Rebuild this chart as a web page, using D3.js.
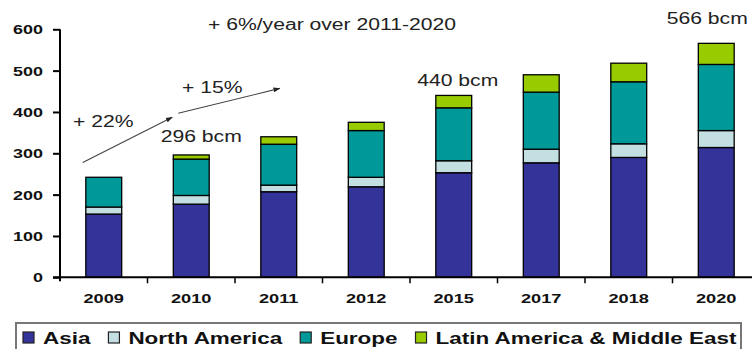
<!DOCTYPE html>
<html>
<head>
<meta charset="utf-8">
<script src="https://cdn.jsdelivr.net/npm/d3@7"></script>
<style>
  body { margin: 0; background: #fff; }
  svg { display: block; font-family: "Liberation Sans", Arial, sans-serif; }
</style>
</head>
<body>
<svg id="chart" width="752" height="349"></svg>
<script>
// Gas demand by region, bcm
const years = ["2009", "2010", "2011", "2012", "2015", "2017", "2018", "2020"];
const regions = ["Asia", "North America", "Europe", "Latin America & Middle East"];
const asia         = [153, 177, 207, 219, 253, 277, 290, 314];
const northAmerica = [17,  21,  16,  23,  29,  33,  33,  41];
const europe       = [72,  88,  99, 113, 128, 138, 150, 160];
const latamMideast = [0,   10,  18,  20,  30,  42,  45,  51];
const yTicks = [0, 100, 200, 300, 400, 500, 600];
const colors = ["#333399", "#c4dfe2", "#009999", "#99cc00"];

const svg = d3.select("#chart");
const W = 752;

const x = d3.scaleBand().domain(years).range([60, 760])
  .paddingInner(0.59).paddingOuter(0.295);
const y = d3.scaleLinear().domain([0, 600]).range([277.3, 29.3]);

// Horizontal stretch for text (wide lettering)
function stretch(sel, k) {
  sel.each(function () {
    const w = this.getComputedTextLength();
    this.setAttribute("textLength", w * k);
    this.setAttribute("lengthAdjust", "spacingAndGlyphs");
  });
}

// Stacked data
const rows = years.map((yr, i) => ({
  year: yr,
  "Asia": asia[i],
  "North America": northAmerica[i],
  "Europe": europe[i],
  "Latin America & Middle East": latamMideast[i]
}));
const stacked = d3.stack().keys(regions)(rows);

const bars = svg.append("g");
stacked.forEach((layer, li) => {
  bars.append("g").attr("fill", colors[li])
    .selectAll("rect").data(layer).join("rect")
    .attr("x", d => x(d.data.year))
    .attr("width", x.bandwidth())
    .attr("y", d => y(d[1]))
    .attr("height", d => Math.max(0, y(d[0]) - y(d[1])))
    .attr("stroke", d => (d[1] - d[0]) > 0 ? "#000" : "none")
    .attr("stroke-width", 1.3);
});

// Y axis
const yAxis = svg.append("g").attr("transform", "translate(60,0)")
  .call(d3.axisLeft(y).tickValues(yTicks).tickSize(7).tickPadding(10).tickFormat(d3.format("d")));
yAxis.select(".domain").attr("stroke", "#000").attr("stroke-width", 2).attr("d", `M0,${y(600)}V${y(0)}`);
yAxis.selectAll(".tick line").attr("stroke", "#000").attr("stroke-width", 2);
yAxis.selectAll(".tick text")
  .attr("font-size", 13).attr("font-weight", "bold").attr("fill", "#111")
  .attr("font-family", "'Liberation Sans', Arial, sans-serif")
  .attr("dy", "0.35em");
stretch(yAxis.selectAll(".tick text"), 1.38);

// X axis: baseline with ticks at category boundaries
const xg = svg.append("g");
xg.append("line").attr("x1", 53).attr("x2", W).attr("y1", y(0)).attr("y2", y(0))
  .attr("stroke", "#000").attr("stroke-width", 2);
const step = x.step();
years.forEach(yr => {
  const bx = x(yr) + x.bandwidth() / 2 + step / 2;
  xg.append("line").attr("x1", bx).attr("x2", bx).attr("y1", y(0)).attr("y2", y(0) + 6)
    .attr("stroke", "#000").attr("stroke-width", 1.5);
});
xg.append("line").attr("x1", 60).attr("x2", 60).attr("y1", y(0)).attr("y2", y(0) + 4)
  .attr("stroke", "#000").attr("stroke-width", 2);
const xl = xg.selectAll("text.xl").data(years).join("text").attr("class", "xl")
  .attr("x", d => x(d) + x.bandwidth() / 2)
  .attr("y", 302.5)
  .attr("text-anchor", "middle")
  .attr("font-size", 13).attr("font-weight", "bold").attr("fill", "#111")
  .text(d => d);
stretch(xl, 1.4);

// Annotations
const ann = svg.append("g").attr("font-size", 16).attr("fill", "#222");
function note(txt, px, py, anchor) {
  const t = ann.append("text").attr("x", px).attr("y", py)
    .attr("text-anchor", anchor || "start").text(txt);
  stretch(t, 1.32);
  return t;
}
const total = i => asia[i] + northAmerica[i] + europe[i] + latamMideast[i];
const cx = yr => x(yr) + x.bandwidth() / 2;

note("+ 6%/year over 2011-2020", 208, 30);
note(total(7) + " bcm", cx("2020") - 9, 24, "middle");
note(total(4) + " bcm", cx("2015") + 4, 86, "middle");
note(total(1) + " bcm", cx("2010") + 10, 142, "middle");
note("+ 22%", 73, 126.5);
note("+ 15%", 182, 93);

// Growth arrows
const defs = svg.append("defs");
defs.append("marker").attr("id", "ah").attr("viewBox", "0 0 10 10")
  .attr("refX", 9).attr("refY", 5).attr("markerWidth", 7).attr("markerHeight", 7)
  .attr("markerUnits", "userSpaceOnUse").attr("orient", "auto")
  .append("path").attr("d", "M0,1.5L10,5L0,8.5Z").attr("fill", "#222");
const arrows = [
  [[cx("2009") - 21, y(278)], [cx("2010") - 19, y(387)]],
  [[cx("2010") - 13, y(397)], [cx("2011") + 1, y(457)]]
];
svg.append("g").selectAll("line").data(arrows).join("line")
  .attr("x1", d => d[0][0]).attr("y1", d => d[0][1])
  .attr("x2", d => d[1][0]).attr("y2", d => d[1][1])
  .attr("stroke", "#444").attr("stroke-width", 1.1)
  .attr("marker-end", "url(#ah)");

// Legend
const lg = svg.append("g");
lg.append("rect").attr("x", 16).attr("y", 323).attr("width", 725).attr("height", 40)
  .attr("fill", "#fff").attr("stroke", "#777").attr("stroke-width", 2);
let lx = 23;
regions.forEach((r, i) => {
  lg.append("rect").attr("x", lx).attr("y", 332).attr("width", 11).attr("height", 11)
    .attr("fill", colors[i]).attr("stroke", "#222").attr("stroke-width", 1.2);
  const t = lg.append("text").attr("x", lx + 20).attr("y", 344)
    .attr("font-size", 17).attr("font-weight", "bold").attr("fill", "#111").text(r);
  stretch(t, 1.32);
  lx = lx + 20 + t.node().textLength.baseVal.value + 18;
});
</script>
</body>
</html>
